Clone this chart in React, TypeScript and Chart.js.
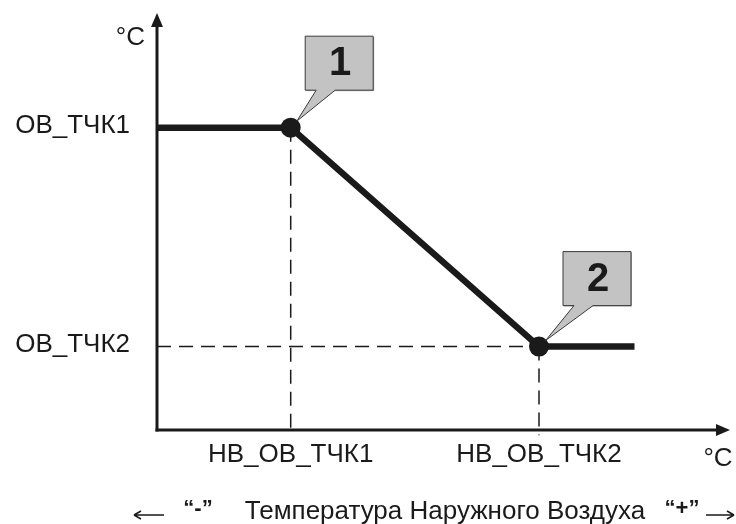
import React, { useEffect, useRef } from "react";
import { Chart, registerables } from "chart.js";

Chart.register(...registerables);

// ---- data ----
const xRange = [-30, 30]; // outdoor temperature axis (°C, schematic)
const yRange = [0, 80]; // water temperature axis (°C, schematic)
const curveX = [-30, -16, 10, 20];
const curveY = [58, 58, 16, 16];
const pointLabels = ["1", "2"];
const yTickLabels = ["ОВ_ТЧК1", "ОВ_ТЧК2"];
const xTickLabels = ["НВ_ОВ_ТЧК1", "НВ_ОВ_ТЧК2"];
const unitLabel = "°C";
const axisTitle = "Температура Наружного Воздуха";
const minusLabel = "“-”";
const plusLabel = "“+”";

// ---- styles ----
const FONT = '"Liberation Sans", Arial, sans-serif';
const INK = "#1a1a1a";
const calloutOffsets = [
  { dx: 48.5, dy: -64.5 },
  { dx: 58, dy: -68 },
];

const overlayPlugin = {
  id: "overlay",
  beforeDatasetsDraw(chart: any) {
    const { ctx, chartArea } = chart;
    const { left, right, top, bottom } = chartArea;
    ctx.save();
    ctx.strokeStyle = INK;
    ctx.fillStyle = INK;
    ctx.lineWidth = 3;
    // y axis
    ctx.beginPath();
    ctx.moveTo(left, bottom + 1.5);
    ctx.lineTo(left, top + 12);
    ctx.stroke();
    ctx.beginPath();
    ctx.moveTo(left, top);
    ctx.lineTo(left - 6, top + 14);
    ctx.lineTo(left + 6, top + 14);
    ctx.closePath();
    ctx.fill();
    // x axis
    ctx.beginPath();
    ctx.moveTo(left - 1.5, bottom);
    ctx.lineTo(right - 12, bottom);
    ctx.stroke();
    ctx.beginPath();
    ctx.moveTo(right, bottom);
    ctx.lineTo(right - 14, bottom - 6);
    ctx.lineTo(right - 14, bottom + 6);
    ctx.closePath();
    ctx.fill();
    ctx.restore();
  },
  afterDatasetsDraw(chart: any) {
    const { ctx, chartArea, scales } = chart;
    const xs = scales.x;
    const ys = scales.y;
    ctx.save();
    ctx.fillStyle = INK;
    ctx.font = `26px ${FONT}`;
    ctx.textBaseline = "middle";
    // y labels
    ctx.textAlign = "right";
    ctx.fillText(yTickLabels[0], chartArea.left - 27, ys.getPixelForValue(curveY[1]) - 2);
    ctx.fillText(yTickLabels[1], chartArea.left - 27, ys.getPixelForValue(curveY[2]) - 2);
    ctx.fillText(unitLabel, chartArea.left - 12, 38);
    // x labels
    ctx.textAlign = "center";
    ctx.fillText(xTickLabels[0], xs.getPixelForValue(curveX[1]), chartArea.bottom + 25);
    ctx.fillText(xTickLabels[1], xs.getPixelForValue(curveX[2]), chartArea.bottom + 25);
    ctx.fillText(unitLabel, chartArea.right - 12, chartArea.bottom + 29);
    // bottom title
    const by = 512;
    ctx.fillText(axisTitle, 445, by);
    ctx.font = `bold 22px ${FONT}`;
    ctx.fillText(minusLabel, 198, by - 3);
    ctx.fillText(plusLabel, 682, by - 3);
    // thin arrows
    ctx.strokeStyle = INK;
    ctx.lineWidth = 1.5;
    const ay = by + 3;
    ctx.beginPath();
    ctx.moveTo(134, ay);
    ctx.lineTo(164, ay);
    ctx.moveTo(134, ay);
    ctx.lineTo(141, ay - 4);
    ctx.moveTo(134, ay);
    ctx.lineTo(141, ay + 4);
    ctx.moveTo(706, ay);
    ctx.lineTo(734, ay);
    ctx.moveTo(734, ay);
    ctx.lineTo(727, ay - 4);
    ctx.moveTo(734, ay);
    ctx.lineTo(727, ay + 4);
    ctx.stroke();

    // callouts
    const pts = [1, 2];
    pts.forEach((idx, i) => {
      const px = xs.getPixelForValue(curveX[idx]);
      const py = ys.getPixelForValue(curveY[idx]);
      const cx = px + calloutOffsets[i].dx;
      const cy = py + calloutOffsets[i].dy;
      const w = 68;
      const h = 54;
      const l = cx - w / 2;
      const t = cy - h / 2;
      const b = t + h;
      const b1 = l + 11;
      const b2 = l + 30;
      const mx = (b1 + b2) / 2;
      const vx = mx - px;
      const vy = b - py;
      const len = Math.hypot(vx, vy);
      const tx = px + (vx / len) * 9;
      const ty = py + (vy / len) * 9;
      // slight shadow
      ctx.fillStyle = "rgba(0,0,0,0.3)";
      ctx.fillRect(l + 1, t + 1, w, h);
      ctx.beginPath();
      ctx.moveTo(l, t);
      ctx.lineTo(l + w, t);
      ctx.lineTo(l + w, b);
      ctx.lineTo(b2, b);
      ctx.lineTo(tx, ty);
      ctx.lineTo(b1, b);
      ctx.lineTo(l, b);
      ctx.closePath();
      ctx.fillStyle = "#c3c3c3";
      ctx.fill();
      ctx.strokeStyle = "#3a3a3a";
      ctx.lineWidth = 1;
      ctx.stroke();
      ctx.fillStyle = INK;
      ctx.font = `bold 40px ${FONT}`;
      ctx.textAlign = "center";
      ctx.textBaseline = "middle";
      ctx.fillText(pointLabels[i], cx + 1, cy + 1);
    });
    ctx.restore();
  },
};

export default function App() {
  const ref = useRef<HTMLCanvasElement>(null);
  useEffect(() => {
    if (!ref.current) return;
    const mainData = curveX.map((x, i) => ({ x, y: curveY[i] }));
    const below = yRange[0] - 1;
    const dashStyle = {
      borderColor: INK,
      borderWidth: 1.5,
      borderDash: [14, 8],
      pointRadius: 0,
      fill: false,
      clip: false,
    };
    const chart = new Chart(ref.current, {
      type: "line",
      data: {
        datasets: [
          {
            data: mainData,
            borderColor: INK,
            borderWidth: 6.5,
            pointRadius: curveX.map((_, i) => (i === 1 || i === 2 ? 10 : 0)),
            pointBackgroundColor: INK,
            pointBorderWidth: 0,
            tension: 0,
            fill: false,
            borderCapStyle: "butt",
            borderJoinStyle: "miter",
          } as any,
          {
            ...dashStyle,
            data: [
              { x: curveX[1], y: curveY[1] },
              { x: curveX[1], y: below },
            ],
          } as any,
          {
            ...dashStyle,
            data: [
              { x: xRange[0], y: curveY[2] },
              { x: curveX[2], y: curveY[2] },
            ],
          } as any,
          {
            ...dashStyle,
            data: [
              { x: curveX[2], y: curveY[2] },
              { x: curveX[2], y: below },
            ],
          } as any,
        ],
      },
      options: {
        animation: false,
        responsive: false,
        maintainAspectRatio: false,
        devicePixelRatio: 1,
        layout: { padding: { left: 157, right: 6, top: 13, bottom: 94 }, autoPadding: false } as any,
        scales: {
          x: { type: "linear", min: xRange[0], max: xRange[1], display: false },
          y: { type: "linear", min: yRange[0], max: yRange[1], display: false },
        },
        plugins: {
          legend: { display: false },
          tooltip: { enabled: false },
        },
        events: [],
      },
      plugins: [overlayPlugin],
    });
    return () => chart.destroy();
  }, []);
  return (
    <div style={{ position: "absolute", left: 0, top: 0, width: 736, height: 524, background: "#fff" }}>
      <canvas ref={ref} width={736} height={524} style={{ width: 736, height: 524 }} />
    </div>
  );
}
